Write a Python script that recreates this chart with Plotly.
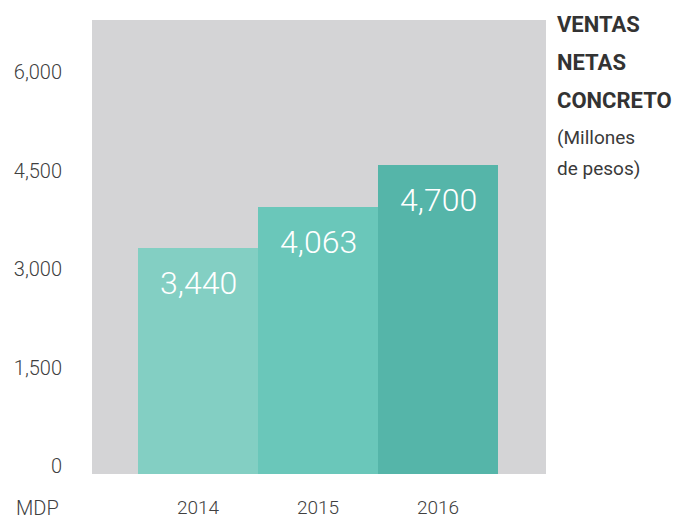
import plotly.graph_objects as go

years = ["2014", "2015", "2016"]
ventas = [3440, 4063, 4700]
value_labels = ["3,440", "4,063", "4,700"]
tick_vals = [0, 1500, 3000, 4500, 6000]
tick_text = ["0", "1,500", "3,000", "4,500", "6,000"]
bar_colors = ["#83cfc3", "#6ac7ba", "#55b5a9"]
title_lines = ["VENTAS", "NETAS", "CONCRETO"]
subtitle_lines = ["(Millones", "de pesos)"]
unit_label = "MDP"

OFF = 8  # page body margin
W, H = 680, 520
L, T = 92 - OFF, 20 - OFF
R, B = W - (546 - OFF), H - (474 - OFF)
pw, ph = W - L - R, H - T - B

FONT = "Roboto, Liberation Sans, sans-serif"
TXT = "#404040"


def px(xr):
    return (xr - OFF - L) / pw


def py(yr):
    return 1 - (yr - OFF - T) / ph


fig = go.Figure()
fig.add_trace(go.Bar(
    x=years, y=ventas, marker=dict(color=bar_colors, line=dict(width=0)),
    hoverinfo="skip", showlegend=False,
))

ann = []
for i, (v, lab) in enumerate(zip(ventas, value_labels)):
    ann.append(dict(x=i, y=v, xref="x", yref="y", text=lab, showarrow=False,
                    yanchor="top", yshift=-14,
                    font=dict(family=FONT, size=32, weight=300, color="white")))

for line, yy in zip(title_lines, [25, 62, 100]):
    ann.append(dict(x=px(555), y=py(yy), xref="paper", yref="paper",
                    text="<b>" + line + "</b>", showarrow=False, xanchor="left", yanchor="middle",
                    font=dict(family=FONT, size=22, color="#333333")))
for line, yy in zip(subtitle_lines, [137, 168]):
    ann.append(dict(x=px(555), y=py(yy), xref="paper", yref="paper",
                    text=line, showarrow=False, xanchor="left", yanchor="middle",
                    font=dict(family=FONT, size=19, color="#3a3a3a")))
ann.append(dict(x=px(14), y=py(508), xref="paper", yref="paper",
                text=unit_label, showarrow=False, xanchor="left", yanchor="middle",
                font=dict(family=FONT, size=20, weight=300, color=TXT)))

scale = 98.5 / 1500  # px per unit
ymax = ph / scale
d = 8 / scale  # tick labels sit slightly above their tick

fig.add_trace(go.Scatter(x=[None], y=[None], yaxis="y2", showlegend=False, hoverinfo="skip"))

fig.update_layout(
    width=W, height=H,
    margin=dict(l=L, r=R, t=T, b=B, pad=0, autoexpand=False),
    paper_bgcolor="white", plot_bgcolor="#d4d4d6",
    bargap=0,
    xaxis=dict(type="category", range=[-0.5 - 46 / 120, 2.5 + 48 / 120], showgrid=False,
               zeroline=False, showline=False, ticks="", ticklabelstandoff=20, automargin=False,
               tickfont=dict(family=FONT, size=19, weight=300, color=TXT), fixedrange=True),
    yaxis=dict(range=[0, ymax], showticklabels=False, showgrid=False,
               zeroline=False, showline=False, ticks="", automargin=False, fixedrange=True),
    yaxis2=dict(range=[-d, ymax - d], overlaying="y", side="left", tickvals=tick_vals,
                ticktext=tick_text, showgrid=False, zeroline=False, showline=False, ticks="",
                ticklabelstandoff=29, automargin=False,
                tickfont=dict(family=FONT, size=20, weight=300, color=TXT), fixedrange=True),
    annotations=ann,
)
fig.write_html("out.html")
